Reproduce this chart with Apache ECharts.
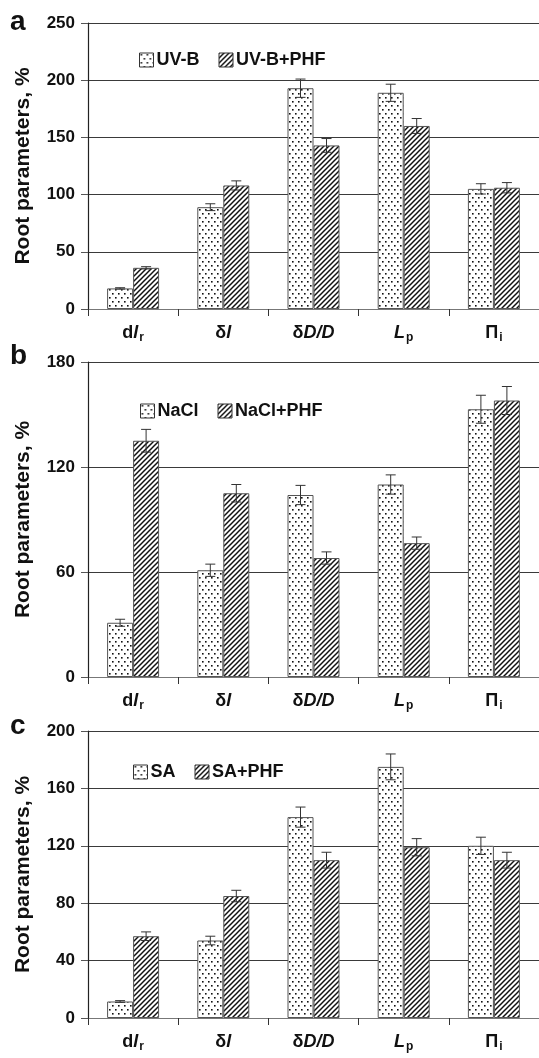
<!DOCTYPE html>
<html><head><meta charset="utf-8">
<script src="https://cdn.jsdelivr.net/npm/echarts/dist/echarts.min.js"></script>
<style>html,body{margin:0;padding:0;background:#fff}#c{width:539px;height:1058px}</style>
</head><body><div id="c"></div>
<script>
// ---- data ----
const categories = ['{b|d}{bi|l}{sub|r}', '{b|δ}{bi|l}', '{b|δ}{bi|D/D}', '{bi|L}{sub|p}', '{b|Π}{sub|i}'];

const uvbNames = ['UV-B', 'UV-B+PHF'];
const uvb = [18, 89, 193, 189, 105];
const uvbErr = [0.6, 3, 8, 7.5, 4.5];
const uvbPhf = [36, 108, 143, 160, 106];
const uvbPhfErr = [1, 4, 6, 6.5, 4.5];

const naclNames = ['NaCl', 'NaCl+PHF'];
const nacl = [31, 61, 104, 110, 153];
const naclErr = [2, 3.5, 5.5, 5.5, 8];
const naclPhf = [135, 105, 68, 76.5, 158];
const naclPhfErr = [6.5, 5, 3.5, 3.5, 8];

const saNames = ['SA', 'SA+PHF'];
const sa = [11.5, 54, 140, 175, 120];
const saErr = [0.6, 3, 7, 9, 6];
const saPhf = [57, 85, 110, 119, 110];
const saPhfErr = [3, 4, 5.5, 6, 5.5];

const yMax = [250, 180, 200];
const yStep = [50, 60, 40];
const panelLetters = ['a', 'b', 'c'];
const yName = 'Root parameters, %';

// ---- patterns ----
function dotPattern() {
  const c = document.createElement('canvas');
  c.width = 6; c.height = 8;
  const g = c.getContext('2d');
  g.fillStyle = '#fff'; g.fillRect(0, 0, 6, 8);
  g.fillStyle = '#111';
  g.fillRect(1, 1, 1.6, 1.6);
  g.fillRect(4, 5, 1.6, 1.6);
  return { image: c, repeat: 'repeat' };
}
function hatchPattern() {
  const s = 5;
  const c = document.createElement('canvas');
  c.width = s; c.height = s;
  const g = c.getContext('2d');
  g.fillStyle = '#fff'; g.fillRect(0, 0, s, s);
  g.strokeStyle = '#111'; g.lineWidth = 1.5;
  for (let k = -1; k <= 1; k++) {
    g.beginPath();
    g.moveTo(k * s - 1, s + 1);
    g.lineTo(k * s + s + 1, -1);
    g.stroke();
  }
  return { image: c, repeat: 'repeat' };
}
const DOT = dotPattern();
const HATCH = hatchPattern();

const chart = echarts.init(document.getElementById('c'), null, { renderer: 'canvas' });

const grids = [
  { left: 88, right: 0, top: 23, height: 286 },
  { left: 88, right: 0, top: 362, height: 315 },
  { left: 88, right: 0, top: 731, height: 287 }
];
const legendPos = [
  { left: 134, top: 46 },
  { left: 135, top: 397 },
  { left: 128, top: 758 }
];
const panels = [
  { names: uvbNames, a: uvb, ae: uvbErr, b: uvbPhf, be: uvbPhfErr },
  { names: naclNames, a: nacl, ae: naclErr, b: naclPhf, be: naclPhfErr },
  { names: saNames, a: sa, ae: saErr, b: saPhf, be: saPhfErr }
];

const BW = 26;
const FONT = '"Liberation Sans", Arial, sans-serif';

const xAxes = [], yAxes = [], series = [], legends = [], graphics = [];
panels.forEach((p, gi) => {
  xAxes.push({
    type: 'category', gridIndex: gi, data: categories,
    axisLine: { lineStyle: { color: '#777', width: 1.2 } },
    axisTick: { show: true, interval: 0, length: 7, lineStyle: { color: '#333' } },
    axisLabel: {
      interval: 0, margin: 13, color: '#111', fontFamily: FONT, fontSize: 18, fontWeight: 'bold',
      rich: {
        b: { fontFamily: FONT, fontSize: 18, fontWeight: 'bold', color: '#111', lineHeight: 22 },
        bi: { fontFamily: FONT, fontSize: 18, fontWeight: 'bold', fontStyle: 'italic', color: '#111', lineHeight: 22 },
        sub: { fontFamily: FONT, fontSize: 12, fontWeight: 'bold', color: '#111', padding: [9, 0, 0, 1], lineHeight: 13 }
      }
    },
    splitLine: { show: false }
  });
  yAxes.push({
    type: 'value', gridIndex: gi, min: 0, max: yMax[gi], interval: yStep[gi],
    name: yName, nameLocation: 'middle', nameGap: 54,
    nameTextStyle: { fontFamily: FONT, fontSize: 21, fontWeight: 'bold', color: '#111' },
    axisLine: { show: true, lineStyle: { color: '#222', width: 1.2 } },
    axisTick: { show: true, length: 7, lineStyle: { color: '#555' } },
    axisLabel: { margin: 13, fontFamily: FONT, fontSize: 17, fontWeight: 'bold', color: '#111' },
    splitLine: { show: true, lineStyle: { color: '#3a3a3a', width: 1.2 } }
  });
  series.push({
    name: p.names[0], type: 'bar', xAxisIndex: gi, yAxisIndex: gi, data: p.a,
    barWidth: BW, barGap: '0%',
    itemStyle: { color: DOT, borderColor: '#555', borderWidth: 1 }
  });
  series.push({
    name: p.names[1], type: 'bar', xAxisIndex: gi, yAxisIndex: gi, data: p.b,
    barWidth: BW, barGap: '0%',
    itemStyle: { color: HATCH, borderColor: '#555', borderWidth: 1 }
  });
  const errData = [];
  p.a.forEach((v, i) => errData.push([i, v, p.ae[i], -1]));
  p.b.forEach((v, i) => errData.push([i, v, p.be[i], 1]));
  series.push({
    type: 'custom', xAxisIndex: gi, yAxisIndex: gi, z: 10, silent: true,
    data: errData, encode: { x: 0, y: 1 },
    renderItem: function (params, api) {
      const i = api.value(0), v = api.value(1), e = api.value(2), side = api.value(3);
      const c = api.coord([i, v]);
      const x = c[0] + side * BW / 2;
      const top = api.coord([i, v + e])[1];
      const bot = api.coord([i, v - e])[1];
      const w = 5;
      const st = { stroke: '#333', lineWidth: 1 };
      return {
        type: 'group', children: [
          { type: 'line', shape: { x1: x, y1: top, x2: x, y2: bot }, style: st },
          { type: 'line', shape: { x1: x - w, y1: top, x2: x + w, y2: top }, style: st },
          { type: 'line', shape: { x1: x - w, y1: bot, x2: x + w, y2: bot }, style: st }
        ]
      };
    }
  });
  legends.push({
    left: legendPos[gi].left, top: legendPos[gi].top, orient: 'horizontal',
    data: p.names, itemWidth: 14, itemHeight: 14, itemGap: 19, icon: 'rect',
    itemStyle: { borderColor: '#333', borderWidth: 1 },
    textStyle: { fontFamily: FONT, fontSize: 18, fontWeight: 'bold', color: '#111', padding: [0, 0, 0, -2] }
  });
});

const letterY = [34, 368, 738];
panelLetters.forEach((L, i) => {
  graphics.push({
    type: 'text', left: 10, top: letterY[i] - 26,
    style: { text: L, fontFamily: FONT, fontSize: 28, fontWeight: 'bold', fill: '#111' }
  });
});

chart.setOption({
  animation: false,
  backgroundColor: '#fff',
  grid: grids,
  xAxis: xAxes,
  yAxis: yAxes,
  legend: legends,
  series: series,
  graphic: graphics
});
</script>
</body></html>
